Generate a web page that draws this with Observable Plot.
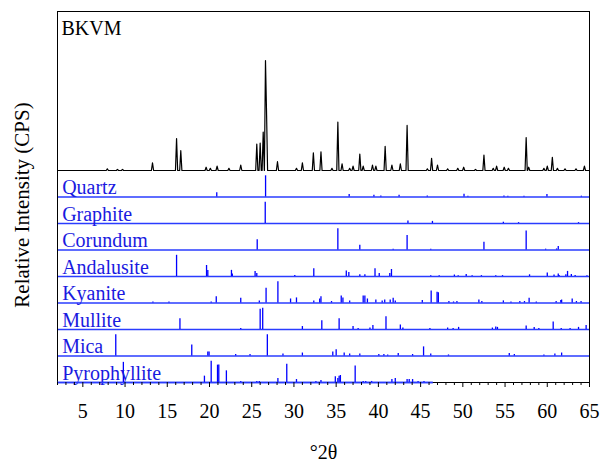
<!DOCTYPE html>
<html>
<head>
<meta charset="utf-8">
<script src="https://cdn.jsdelivr.net/npm/d3@7"></script>
<script src="https://cdn.jsdelivr.net/npm/@observablehq/plot@0.6"></script>
<style>
  html, body { margin: 0; padding: 0; background: #fff; }
  svg, svg text { font-family: 'Liberation Serif', 'Times New Roman', serif !important; }
</style>
</head>
<body>
<div id="chart"></div>
<script>
// ---- data ----
const sampleName = "BKVM";
// measured pattern peaks: [2θ, relative intensity %]
const patternPeaks = [
  [7.9,1.5],[9.1,1],[9.7,1],[13.25,7],[16.1,29],[16.6,18],[19.6,3],[20.1,2],[20.9,4],[22.3,2],
  [23.7,5],[25.6,24],[26.0,25],[26.36,35],[26.63,100],[26.75,55],[28.05,8],[30.3,2],[31.0,7],
  [32.3,16],[33.2,17],[34.5,2],[35.2,44],[35.7,6],[36.6,2],[37.0,4],[37.8,15],[38.2,4],[39.3,5],
  [39.7,4],[40.8,22],[41.6,5],[42.6,6],[43.4,41],[45.8,1.5],[46.3,11],[47.0,5],[48.2,1.5],
  [49.4,2],[50.1,3],[51.5,1],[52.5,14],[53.6,2],[54.0,4],[54.9,3],[55.4,2],[57.5,30],[57.8,3],
  [59.6,2],[60.0,4],[60.6,12],[61.2,2],[62.1,1.5],[63.4,1.5],[64.4,4]
];

const minerals = ["Quartz","Graphite","Corundum","Andalusite","Kyanite","Mullite","Mica","Pyrophyllite"];
const baselineEnd = [65, 65, 65, 65, 65, 65, 65, 46.5];

const quartz = [[20.86,20],[26.64,100],[36.54,12],[39.47,8],[40.29,5],[42.45,8],[45.79,5],[50.14,13],
  [50.6,4],[54.87,5],[55.33,4],[57.24,4],[59.96,12],[64.04,4]];
const graphite = [[26.6,100],[43.5,12],[46.4,10],[54.8,6],[56.6,4],[63.7,4]];
const corundum = [[25.65,48],[35.2,100],[37.8,22],[41.75,4],[43.4,68],[46.2,4],[52.5,37],[57.5,90],
  [59.8,4],[61.1,5],[61.3,16]];
const andalusite = [[16.1,100],[19.65,52],[19.8,28],[22.6,29],[22.7,12],[25.4,24],[25.6,14],[30.1,5],
  [32.35,37],[36.2,26],[36.5,19],[37.8,8],[38.4,8],[39.6,37],[40.1,14],[41.35,14],[41.55,33],
  [46.2,4],[47.2,4],[49.0,7],[49.45,4],[50.4,10],[51.1,4],[52.2,4],[53.9,4],[54.7,4],[57.9,8],
  [60.0,17],[60.8,7],[61.3,12],[61.4,5],[62.2,8],[62.4,24],[62.85,10],[63.3,5],[64.7,4]];
const kyanite = [[13.3,5],[15.2,5],[20.2,5],[20.8,30],[23.7,22],[25.9,10],[26.7,70],[28.1,100],
  [29.6,19],[30.3,24],[32.35,10],[33.05,19],[33.2,29],[34.45,7],[35.6,33],[35.8,24],[36.6,10],
  [38.2,33],[38.4,33],[38.7,19],[39.7,14],[40.45,10],[40.75,14],[41.4,14],[41.75,22],[42.0,10],
  [45.2,12],[46.25,57],[46.95,51],[47.1,48],[48.35,7],[48.9,5],[49.3,7],[51.9,14],[52.25,7],
  [54.8,10],[55.7,5],[56.75,7],[57.3,7],[57.85,22],[58.7,5],[61.05,7],[61.6,12],[61.7,14],
  [62.95,19],[63.45,7],[64.0,7]];
const mullite = [[16.5,51],[23.7,5],[26.0,95],[26.3,100],[31.0,14],[33.3,41],[35.35,51],[37.0,14],
  [37.6,5],[39.0,7],[39.35,19],[40.9,60],[42.6,21],[42.9,7],[46.1,5],[48.2,7],[48.85,5],[49.5,10],
  [53.5,7],[53.9,12],[54.1,10],[57.5,17],[58.45,10],[59.0,5],[60.7,35],[61.65,5],[62.7,5],[63.7,10],
  [64.6,19]];
const mica = [[8.9,100],[17.9,52],[19.8,19],[19.95,19],[23.1,7],[24.8,7],[26.85,100],[28.7,10],
  [31.0,14],[34.6,19],[35.0,29],[35.95,14],[36.6,10],[37.8,10],[40.05,7],[40.65,7],[41.1,5],
  [42.35,12],[44.05,7],[45.35,43],[46.2,10],[48.3,5],[55.5,12],[56.1,7],[59.6,5],[60.9,10],[61.7,14]];
const pyrophyllite = [[9.8,95],[19.4,30],[20.2,100],[20.95,82],[21.1,82],[22.0,55],[23.7,5],[25.6,5],
  [25.9,5],[28.1,19],[29.15,86],[30.3,14],[32.6,5],[33.2,10],[34.9,27],[35.2,19],[35.35,29],
  [35.5,33],[37.25,78],[38.2,5],[38.5,5],[39.2,5],[41.6,14],[42.0,19],[43.4,14],[43.65,14],
  [44.05,14],[44.7,5],[45.4,5]];
const stickSets = [quartz, graphite, corundum, andalusite, kyanite, mullite, mica, pyrophyllite];

const majorTicks = [5,10,15,20,25,30,35,40,45,50,55,60,65];
const xLabel = "°2θ";
const yLabel = "Relative Intensity (CPS)";

// ---- build tables ----
const nPanels = minerals.length;           // 8 stick panels
const patternBase = nPanels;               // pattern baseline level
const patternScale = 4.15 / 100;           // pattern height per %
const stickScale = 0.8 / 100;              // stick height per %
const peakHalfWidth = 0.13;

const xs = new Set([2, 65]);
for (const [p] of patternPeaks) { xs.add(p - peakHalfWidth); xs.add(p); xs.add(p + peakHalfWidth); }
const pattern = Array.from(xs).sort((a, b) => a - b).map(x => {
  let h = 0;
  for (const [p, v] of patternPeaks) h = Math.max(h, v * Math.max(0, 1 - Math.abs(x - p) / peakHalfWidth));
  return {x, y: patternBase + h * patternScale};
});

const panels = minerals.map((name, i) => ({name, base: nPanels - 1 - i, end: baselineEnd[i]}));
const sticks = [];
stickSets.forEach((set, i) => {
  const base = nPanels - 1 - i;
  for (const [p, v] of set) sticks.push({x: p, y1: base, y2: base + v * stickScale});
});
const minorTicks = d3.range(2, 66).filter(v => v % 5 !== 0);

const font = "Liberation Serif";

const chart = Plot.plot({
  width: 602,
  height: 462,
  marginLeft: 57,
  marginRight: 13,
  marginTop: 11,
  marginBottom: 80,
  style: {fontFamily: font, fontSize: "20px", background: "#fff", color: "#000"},
  x: {domain: [2, 65]},
  y: {domain: [0, 14], axis: null},
  marks: [
    Plot.ruleY(panels, {y: "base", x1: 2, x2: "end", stroke: "#2a3cff", strokeWidth: 1.6}),
    Plot.ruleX(sticks, {x: "x", y1: "y1", y2: "y2", stroke: "#0000ff", strokeWidth: 1.3}),
    Plot.line(pattern, {x: "x", y: "y", stroke: "#000", strokeWidth: 1.2}),
    Plot.text(panels, {x: 2.55, y: "base", text: "name", textAnchor: "start", lineAnchor: "bottom",
      dy: -3, fill: "#1a1adf", fontSize: 20, fontFamily: font}),
    Plot.text([sampleName], {frameAnchor: "top-left", dx: 4, dy: 9, lineAnchor: "top", textAnchor: "start",
      fill: "#000", fontSize: 20, fontFamily: font}),
    Plot.frame({stroke: "#000", strokeWidth: 1}),
    Plot.ruleY(panels.filter(d => d.base === 0), {y: "base", x1: 2, x2: "end", stroke: "#2a3cff", strokeWidth: 1.6}),
    Plot.axisX({ticks: minorTicks, tickSize: 3, tickFormat: () => "", label: null}),
    Plot.axisX({ticks: majorTicks, tickSize: 5, tickPadding: 16, tickFormat: d => String(d), label: null,
      fontSize: 20, fontFamily: font}),
    Plot.text([xLabel], {frameAnchor: "bottom", dy: 70, lineAnchor: "middle", fontSize: 20, fontFamily: font, fill: "#000"}),
    Plot.text([yLabel], {frameAnchor: "left", dx: -35, dy: 8, rotate: -90, lineAnchor: "middle",
      textAnchor: "middle", fontSize: 21, fontFamily: font, fill: "#000"})
  ]
});
chart.querySelectorAll("text, g").forEach(el => {
  el.setAttribute("font-family", font);
  el.style.fontFamily = "'Liberation Serif', serif";
});
document.getElementById("chart").appendChild(chart);
</script>
</body>
</html>
